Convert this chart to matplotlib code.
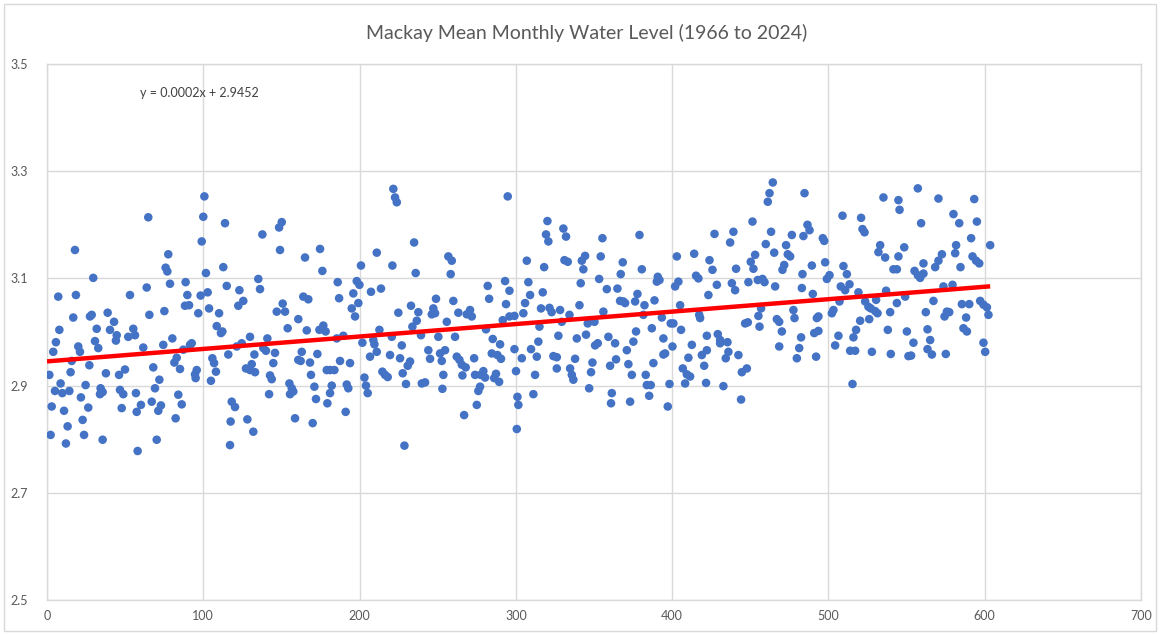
import matplotlib
matplotlib.use("Agg")
import matplotlib.pyplot as plt
from matplotlib.patches import Rectangle
import numpy as np

plt.rcParams['font.family'] = ['Lato', 'DejaVu Sans']

title = "Mackay Mean Monthly Water Level (1966 to 2024)"
equation = "y = 0.0002x + 2.9452"
trend_slope = 0.000232
trend_intercept = 2.9452

x_ticks = [0, 100, 200, 300, 400, 500, 600, 700]
y_ticks = [2.5, 2.7, 2.9, 3.1, 3.3, 3.5]

# month index
month = [
 # 0-60
 17.9,29.6,7.2,18.5,53.1,16.8,28.6,27.5,38.8,42.9,7.9,31.8,40.3,44.6,44.1,55.2,52.0,56.3,5.7,4.0,20.0,21.1,30.7,32.8,15.8,27.1,1.5,15.1,37.7,46.1,49.9,8.7,5.1,9.8,14.3,24.7,34.3,35.6,33.9,46.7,48.8,56.9,3.0,10.9,21.7,26.4,47.8,57.4,22.8,13.2,2.3,23.7,12.1,35.6,58.0,
 # 60-120
 100.7,64.8,100.0,113.9,99.0,77.6,75.9,77.0,101.7,112.8,63.8,78.7,88.7,115.0,89.8,98.3,102.8,88.3,90.9,75.1,65.5,96.8,103.7,110.1,108.6,111.3,112.2,80.2,61.6,74.4,87.2,92.6,91.5,116.0,83.0,81.5,105.8,106.9,68.0,85.1,95.8,94.7,95.1,108.1,104.9,71.9,69.1,84.0,86.2,60.1,67.0,72.9,71.2,82.3,118.2,117.5,70.2,117.1,
 # 120-180
 150.2,148.5,137.8,149.1,174.7,165.1,176.2,135.2,136.3,123.1,125.6,122.4,164.0,167.2,150.8,147.0,152.3,160.8,154.0,166.2,174.3,176.8,178.3,129.9,141.0,124.6,121.4,138.4,140.1,132.7,145.9,163.0,160.8,162.3,173.0,168.3,144.8,131.0,127.3,129.9,133.1,142.7,143.8,168.9,179.0,155.1,156.6,155.5,157.6,171.1,172.1,179.4,142.1,120.3,128.2,132.0,158.7,170.0,
 # 180-240
 221.6,222.7,223.8,234.9,211.0,200.9,221.0,235.9,186.0,198.2,199.9,207.3,213.7,196.0,186.9,199.2,195.0,197.1,224.8,232.9,237.6,236.6,233.8,239.3,212.7,220.6,208.8,209.5,201.8,227.0,189.6,185.4,211.0,206.7,219.5,225.9,232.3,230.8,187.5,193.9,181.1,183.9,214.6,216.3,218.0,227.6,229.7,239.8,203.1,204.1,205.2,182.2,181.1,191.8,192.8,191.1,228.7,
 # 240-300
 294.8,256.8,259.0,258.3,282.0,293.1,295.9,282.9,248.9,260.0,293.7,247.2,246.2,248.3,263.2,270.7,268.6,271.8,255.8,291.6,295.9,299.1,280.9,261.1,250.4,285.2,289.9,299.1,244.0,254.7,251.5,252.6,245.1,262.2,263.9,265.4,267.9,273.3,284.6,288.2,290.5,300.1,241.9,253.6,265.8,273.9,279.2,280.3,277.5,287.3,286.1,289.3,253.0,277.1,276.0,301.0,301.6,275.0,266.9,300.6,
 # 300-360
 320.2,319.3,320.8,330.4,332.1,355.4,307.0,318.1,331.1,333.2,344.3,342.2,343.2,354.3,308.0,353.3,341.5,358.2,317.2,309.1,305.9,304.8,316.1,321.5,322.9,328.3,340.7,334.3,356.0,346.0,350.3,329.4,315.1,327.2,339.0,344.9,359.2,314.4,350.7,352.4,309.7,313.4,303.8,324.0,326.2,337.9,349.0,360.3,326.2,334.7,335.8,336.8,348.1,312.3,346.9,361.4,311.2,360.9,
 # 360-420
 379.1,403.0,414.1,423.9,368.4,367.1,380.6,390.8,390.2,391.9,415.3,416.8,404.0,401.9,423.2,365.0,377.8,366.7,369.9,368.8,376.3,382.3,381.6,388.7,405.1,393.4,417.3,417.9,399.1,400.8,405.7,387.0,376.9,422.2,394.4,363.5,375.2,400.2,412.6,371.0,395.5,394.4,422.2,419.0,410.4,364.1,388.0,372.0,420.5,406.8,409.4,411.5,374.2,383.1,383.8,386.3,398.3,408.3,421.7,373.1,385.3,397.2,
 # 420-480
 464.4,462.3,461.2,451.4,484.7,427.1,439.2,437.1,463.3,476.6,484.0,459.9,472.9,465.3,453.1,450.3,452.0,474.0,475.5,425.8,440.9,471.7,470.6,483.4,428.6,438.2,440.3,448.8,454.8,457.8,459.1,465.9,483.0,456.9,455.2,477.6,478.3,446.7,448.4,467.0,468.5,455.9,470.2,429.2,430.7,430.7,435.4,482.5,468.5,481.3,436.0,434.3,442.4,479.8,447.8,444.6,432.8,444.1,
 # 480-540
 535.2,544.8,545.5,509.0,520.9,521.8,523.1,486.6,487.9,496.4,497.3,533.1,532.0,536.3,544.8,497.9,489.4,509.6,511.8,541.6,543.8,500.7,499.0,513.5,507.9,510.7,490.0,519.2,536.9,507.1,523.5,525.6,527.1,529.9,531.4,530.5,543.8,539.5,503.2,502.2,493.6,492.6,520.3,526.1,517.7,516.0,493.6,490.9,538.0,506.4,504.3,492.1,513.9,517.1,527.8,539.9,515.4,
 # 540-604
 557.2,570.4,593.3,580.0,583.7,595.0,559.3,591.3,603.5,548.5,581.7,581.1,572.6,570.4,568.3,592.2,594.5,596.5,560.8,584.5,555.1,557.2,558.7,560.8,573.6,579.4,549.1,567.2,585.4,590.1,597.1,599.2,601.4,602.4,562.3,575.8,577.3,574.3,588.1,550.2,563.4,586.4,588.6,565.1,554.4,599.2,563.4,566.2,551.2,552.9,575.1,600.3,
]

# mean monthly water level (m)
level = [
 3.153,3.101,3.066,3.069,3.069,3.027,3.032,3.029,3.036,3.019,3.004,3.006,3.004,2.994,2.984,3.006,2.991,2.994,2.981,2.963,2.973,2.963,2.983,2.970,2.946,2.938,2.920,2.925,2.923,2.920,2.930,2.904,2.890,2.886,2.890,2.901,2.895,2.888,2.884,2.892,2.884,2.886,2.861,2.853,2.878,2.859,2.858,2.851,2.836,2.824,2.808,2.808,2.792,2.799,2.778,
 3.253,3.214,3.215,3.203,3.169,3.145,3.120,3.113,3.110,3.121,3.083,3.090,3.093,3.086,3.069,3.068,3.074,3.049,3.050,3.039,3.032,3.035,3.044,3.035,3.011,2.998,3.001,2.988,2.971,2.976,2.967,2.979,2.976,2.958,2.952,2.943,2.951,2.942,2.934,2.931,2.929,2.921,2.914,2.926,2.909,2.911,2.895,2.883,2.865,2.864,2.870,2.863,2.853,2.839,2.870,2.833,2.799,2.789,
 3.205,3.195,3.182,3.153,3.155,3.139,3.114,3.099,3.080,3.078,3.058,3.049,3.066,3.061,3.053,3.038,3.038,3.024,3.007,3.003,3.004,3.012,3.001,2.991,2.988,2.979,2.973,2.970,2.965,2.958,2.961,2.963,2.948,2.946,2.959,2.943,2.942,2.940,2.932,2.929,2.925,2.919,2.912,2.920,2.929,2.904,2.895,2.884,2.889,2.898,2.875,2.867,2.884,2.860,2.837,2.814,2.839,2.830,
 3.267,3.251,3.242,3.167,3.148,3.124,3.124,3.110,3.093,3.095,3.088,3.075,3.081,3.072,3.063,3.054,3.044,3.029,3.036,3.049,3.037,3.021,3.010,2.994,3.004,2.991,2.985,2.977,2.980,2.975,2.993,2.988,2.963,2.954,2.957,2.951,2.945,2.937,2.946,2.942,2.929,2.929,2.926,2.920,2.916,2.923,2.903,2.904,2.915,2.900,2.886,2.900,2.886,2.902,2.895,2.851,2.788,
 3.253,3.141,3.133,3.108,3.086,3.095,3.077,3.062,3.062,3.058,3.052,3.044,3.033,3.035,3.036,3.041,3.033,3.029,3.019,3.022,3.029,3.030,3.005,2.991,2.991,2.987,2.977,2.968,2.966,2.966,2.960,2.946,2.950,2.954,2.948,2.939,2.934,2.951,2.960,2.957,2.950,2.927,2.906,2.920,2.919,2.920,2.927,2.915,2.920,2.922,2.914,2.907,2.894,2.898,2.890,2.879,2.864,2.864,2.845,2.819,
 3.207,3.182,3.169,3.193,3.178,3.175,3.133,3.121,3.134,3.131,3.142,3.133,3.117,3.141,3.093,3.099,3.091,3.080,3.074,3.069,3.054,3.035,3.044,3.045,3.037,3.041,3.050,3.032,3.038,3.016,3.019,3.019,3.010,2.993,2.988,2.995,2.991,2.982,2.975,2.979,2.968,2.954,2.951,2.955,2.953,2.950,2.943,2.937,2.932,2.932,2.920,2.911,2.925,2.920,2.895,2.886,2.884,2.867,
 3.181,3.141,3.146,3.134,3.130,3.108,3.117,3.103,3.094,3.097,3.105,3.100,3.094,3.085,3.069,3.081,3.071,3.058,3.054,3.057,3.057,3.050,3.032,3.059,3.050,3.027,3.032,3.026,3.016,3.016,3.004,3.007,3.001,2.993,2.988,2.979,2.982,2.973,2.976,2.966,2.960,2.958,2.966,2.957,2.952,2.949,2.942,2.940,2.937,2.932,2.921,2.917,2.920,2.920,2.901,2.901,2.903,2.904,2.905,2.870,2.881,2.861,
 3.279,3.259,3.243,3.206,3.259,3.183,3.187,3.167,3.187,3.181,3.179,3.164,3.162,3.148,3.144,3.131,3.118,3.145,3.141,3.116,3.118,3.125,3.116,3.108,3.088,3.091,3.078,3.093,3.097,3.099,3.093,3.085,3.082,3.044,3.030,3.041,3.026,3.016,3.018,3.024,3.019,3.010,3.001,2.996,2.985,2.979,2.981,2.990,2.973,2.970,2.963,2.951,2.957,2.951,2.932,2.925,2.899,2.874,
 3.251,3.246,3.228,3.217,3.213,3.192,3.186,3.200,3.190,3.175,3.170,3.162,3.149,3.139,3.141,3.130,3.124,3.123,3.108,3.117,3.117,3.106,3.099,3.089,3.085,3.078,3.071,3.074,3.077,3.057,3.057,3.047,3.044,3.039,3.035,3.060,3.054,3.037,3.041,3.035,3.029,3.026,3.021,3.024,3.004,2.990,3.002,2.998,3.004,2.993,2.975,2.954,2.965,2.965,2.963,2.959,2.903,
 3.268,3.249,3.248,3.220,3.203,3.206,3.203,3.175,3.162,3.158,3.162,3.147,3.145,3.133,3.121,3.141,3.133,3.128,3.128,3.121,3.114,3.106,3.101,3.109,3.085,3.088,3.066,3.058,3.052,3.052,3.058,3.051,3.046,3.032,3.037,3.038,3.037,3.029,3.027,3.001,3.005,3.007,3.001,2.985,2.980,2.980,2.968,2.958,2.955,2.956,2.959,2.963,
]

W, H = 1160, 635
fig = plt.figure(figsize=(W / 100, H / 100), dpi=100)
ax = fig.add_axes([47 / W, 1 - 600 / H, (1141 - 47) / W, (600 - 64) / H])

grid_c = "#d9d9d9"
text_c = "#595959"

ax.scatter(month, level, s=38, color="#4472C4", edgecolors="none", zorder=3)

xs = np.array([0, max(month)])
ax.plot(xs, trend_intercept + trend_slope * xs, color="#FF0000", lw=3.2,
        solid_capstyle="butt", zorder=4)

ax.set_xlim(0, 700)
ax.set_ylim(2.5, 3.5)
ax.set_xticks(x_ticks)
ax.set_yticks(y_ticks)
ax.set_xticklabels([str(t) for t in x_ticks])
ax.set_yticklabels([f"{t:.1f}" for t in y_ticks])
ax.grid(True, color=grid_c, lw=1, zorder=0)
ax.set_axisbelow(True)
for s in ax.spines.values():
    s.set_color(grid_c)
    s.set_linewidth(1)
ax.tick_params(length=0, labelsize=9, labelcolor=text_c)
ax.tick_params(axis="y", pad=14)
ax.tick_params(axis="x", pad=7)

ax.text(59.5, 3.446, equation, fontsize=9, color="#404040", va="center", ha="left")

fig.text(587 / W, 1 - 33 / H, title, fontsize=14, color=text_c, ha="center", va="center")

fig.patches.append(Rectangle((4 / W, 4 / H), (W - 8) / W, (H - 8) / H,
                             transform=fig.transFigure, fill=False,
                             edgecolor=grid_c, lw=1))

fig.savefig("out.png", dpi=100)
